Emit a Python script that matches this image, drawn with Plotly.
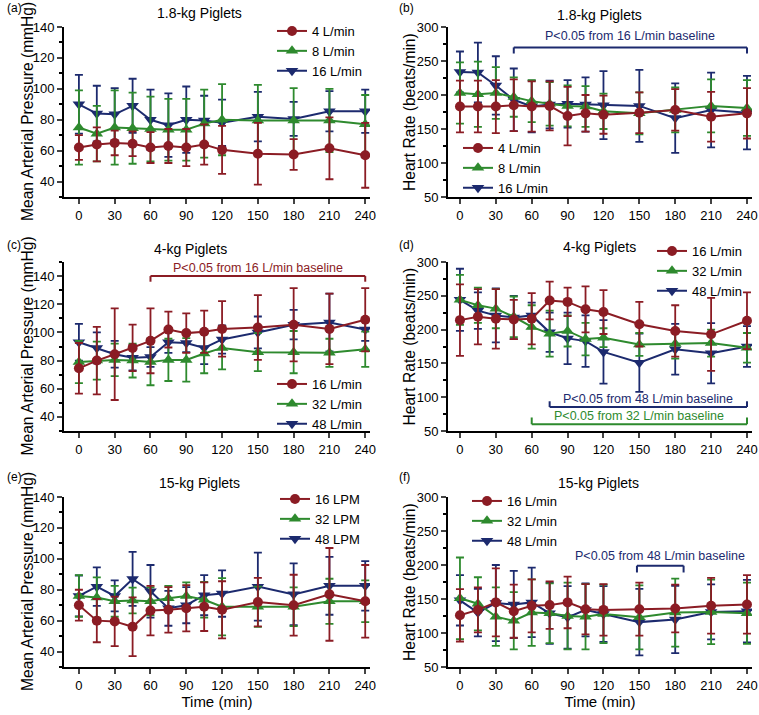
import plotly.graph_objects as go

FONT = "Arial, 'Liberation Sans', sans-serif"
RED = "#8B1C24"
GREEN = "#2E8A2E"
NAVY = "#1C2A6E"

time_min = [0, 15, 30, 45, 60, 75, 90, 105, 120, 150, 180, 210, 240]
x_ticks = [0, 30, 60, 90, 120, 150, 180, 210, 240]

# Panel (a) MAP, 1.8-kg
a_red = [62, 64, 65, 64.5, 62, 63, 62, 64, 60.5, 58, 57.5, 61.5, 57]
a_red_sd = [8, 11, 8, 8, 10, 11, 12, 13, 15.5, 20, 10, 20, 21]
a_green = [75, 71, 75, 74.5, 74, 73.5, 73.5, 77.5, 80, 79.5, 79.5, 79.5, 77]
a_green_sd = [24, 18, 24, 23, 21, 20, 20, 22, 23, 23, 21, 20.5, 19]
a_navy = [90, 84, 83.5, 89, 80, 76.5, 80, 79.5, 78, 82, 80.5, 85.5, 85.5]
a_navy_sd = [19, 18, 17, 17.5, 19.5, 20.5, 21.5, 16, 15, 16, 11, 13, 14]

# Panel (b) HR, 1.8-kg
b_red = [183, 183, 183, 185, 183, 184, 169, 173, 171, 174, 178, 168, 173]
b_red_sd = [38, 38, 39, 38, 37, 36, 43, 27, 28, 30, 30.5, 36.5, 37]
b_green = [203, 201, 203, 197, 191, 187, 184, 183, 176, 173, 178, 184, 181]
b_green_sd = [45, 48, 38, 29, 31, 32, 30, 30, 26, 31, 33, 39, 41]
b_navy = [234, 233, 214, 193, 183, 186, 187, 186, 185, 184, 166, 178, 174]
b_navy_sd = [30, 44, 43, 46, 38, 35, 35, 40, 50, 53, 51, 55, 54]

# Panel (c) MAP, 4-kg
c_red = [74.5, 80, 84.5, 89, 94, 102, 99.5, 100.5, 102.5, 103.5, 105.5, 102.5, 109]
c_red_sd = [18, 24, 32.5, 16.5, 23, 12.7, 14, 15, 19.7, 23, 26, 25, 22.5]
c_green = [79, 80, 80.5, 80, 79, 80.5, 80.5, 85, 89, 86, 86, 85.5, 88]
c_green_sd = [15, 13.5, 11.5, 12, 16.5, 15, 15.5, 14, 15.3, 13.5, 15, 10, 12.5]
c_navy = [93, 89, 84.5, 82, 82.5, 93, 92.5, 89, 95, 100, 105.5, 107, 102]
c_navy_sd = [13, 11, 9.5, 9, 7, 7.5, 6.5, 11.5, 10, 11.3, 10.5, 20.5, 8]

# Panel (d) HR, 4-kg
d_red = [214, 219, 216, 215, 216, 243, 241, 230, 226, 208, 198, 193, 213]
d_red_sd = [53, 41, 44, 29, 38, 28, 21, 34, 32.5, 33, 38, 54, 42]
d_green = [244, 236, 231, 219, 204, 194, 198, 186, 188, 178, 179, 180, 173]
d_green_sd = [37, 26, 29, 30, 32, 34, 23, 24, 14, 17, 22, 20, 22]
d_navy = [244, 228, 221, 218, 221, 196, 187, 183, 167, 151, 171, 165, 175]
d_navy_sd = [46, 27, 40, 32, 19, 29, 38, 38, 47, 43, 37.5, 44.5, 30]

# Panel (e) MAP, 15-kg
e_red = [70, 60, 59.5, 56, 66.5, 67, 68, 69, 67, 72, 70, 77, 72.5]
e_red_sd = [10, 14, 16, 19, 16, 14.7, 15, 15.7, 18.5, 15.7, 19.7, 30, 23.5]
e_green = [76, 75, 72.5, 73, 72.5, 74.5, 76, 73.5, 69, 69, 69, 72.5, 72.5]
e_green_sd = [13.5, 13, 10, 8.3, 9, 8, 8.7, 11.5, 18.5, 13, 12.5, 14.6, 13.5]
e_navy = [76, 82, 76, 87, 79, 68, 70, 76.5, 77.5, 82, 77, 82.5, 82.5]
e_navy_sd = [13.2, 12.4, 10, 17.5, 17, 11.3, 11.7, 13, 15, 22, 20, 18.7, 16]

# Panel (f) HR, 15-kg
f_red = [126, 134, 145, 132, 140, 141, 145, 135, 134, 135, 136, 140, 142]
f_red_sd = [38.5, 33, 50, 39, 39, 35, 38, 37, 38, 39, 35, 41, 43]
f_green = [151, 143, 124, 118, 130, 129, 125, 124, 128, 123, 130, 131, 129]
f_green_sd = [60, 39, 43, 42, 49, 44, 49, 48, 43, 47, 50, 47.5, 45]
f_navy = [148, 130, 144, 142, 145, 129, 123, 134, 128, 116, 120, 131, 132]
f_navy_sd = [37, 35, 56, 49.5, 51, 45, 46, 39, 41, 49, 49.5, 40.5, 46]

names_a = ["4 L/min", "8 L/min", "16 L/min"]
names_c = ["16 L/min", "32 L/min", "48 L/min"]
names_e = ["16 LPM", "32 LPM", "48 LPM"]

titles = ["1.8-kg Piglets", "1.8-kg Piglets", "4-kg Piglets", "4-kg Piglets",
          "15-kg Piglets", "15-kg Piglets"]
panel_labels = ["(a)", "(b)", "(c)", "(d)", "(e)", "(f)"]
map_title = "Mean Arterial Pressure (mmHg)"
hr_title = "Heart Rate (beats/min)"
time_title = "Time (min)"

# brackets: (panel index, x0, x1, y line, y ends, text y, text, colour)
brackets = [
    (1, 45, 240, 270, 261, 287, "P<0.05 from 16 L/min baseline", NAVY),
    (2, 60, 240, 140, 136, 146, "P<0.05 from 16 L/min baseline", RED),
    (3, 75, 240, 85.5, 94, 98, "P<0.05 from 48 L/min baseline", NAVY),
    (3, 60, 240, 60, 70, 72.5, "P<0.05 from 32 L/min baseline", GREEN),
    (5, 148, 187, 199, 189, 213, "P<0.05 from 48 L/min baseline", NAVY),
]

W, H = 759, 715
panels = [
    dict(data=(a_red, a_red_sd, a_green, a_green_sd, a_navy, a_navy_sd), names=names_a,
         yr=[30, 140], dt=20, col=0, row=0, ytitle=map_title, leg=(272, 16)),
    dict(data=(b_red, b_red_sd, b_green, b_green_sd, b_navy, b_navy_sd), names=names_a,
         yr=[50, 300], dt=50, col=1, row=0, ytitle=hr_title, leg=(458, 133)),
    dict(data=(c_red, c_red_sd, c_green, c_green_sd, c_navy, c_navy_sd), names=names_c,
         yr=[30, 150], dt=20, col=0, row=1, ytitle=map_title, leg=(272, 369)),
    dict(data=(d_red, d_red_sd, d_green, d_green_sd, d_navy, d_navy_sd), names=names_c,
         yr=[50, 300], dt=50, col=1, row=1, ytitle=hr_title, leg=(652, 236)),
    dict(data=(e_red, e_red_sd, e_green, e_green_sd, e_navy, e_navy_sd), names=names_e,
         yr=[30, 140], dt=20, col=0, row=2, ytitle=map_title, leg=(275, 484)),
    dict(data=(f_red, f_red_sd, f_green, f_green_sd, f_navy, f_navy_sd), names=names_c,
         yr=[50, 300], dt=50, col=1, row=2, ytitle=hr_title, leg=(467, 486)),
]

xdom_px = [(64, 370), (448, 752)]
ydom_px = [(27, 197), (262, 431), (497, 667)]
xranges = [[-12.5, 244], [-10, 244.2]]
ytitle_x = [27, 409]
title_px = [(199, 13), (599, 15), (190, 249), (599, 247), (199, 483), (598, 483)]
label_px = [(5, 8), (397, 8), (5, 245), (397, 245), (5, 477), (397, 477)]

fig = go.Figure()
layout = dict(width=W, height=H,
              margin=dict(l=0, r=0, t=0, b=0, pad=0, autoexpand=False),
              paper_bgcolor="white", plot_bgcolor="white",
              font=dict(family=FONT, size=13, color="black"),
              annotations=[], shapes=[])

colors = [RED, GREEN, NAVY]
symbols = ["circle", "triangle-up", "triangle-down"]

for i, p in enumerate(panels):
    n = i + 1
    xa = "x" if n == 1 else f"x{n}"
    ya = "y" if n == 1 else f"y{n}"
    leg = "legend" if n == 1 else f"legend{n}"
    vals = p["data"]
    # draw navy first, red last (on top)
    for k in [2, 1, 0]:
        fig.add_trace(go.Scatter(
            x=time_min, y=vals[2 * k], name=p["names"][k],
            mode="lines+markers", xaxis=xa, yaxis=ya, legend=leg,
            legendrank=k + 1,
            line=dict(color=colors[k], width=2),
            marker=dict(symbol=symbols[k], size=10 if k == 0 else 11, color=colors[k]),
            error_y=dict(type="data", array=vals[2 * k + 1], visible=True,
                         color=colors[k], thickness=1.8, width=4),
        ))
    c, r = p["col"], p["row"]
    x0, x1 = xdom_px[c]
    yt, yb = ydom_px[r]
    xkey = "xaxis" if n == 1 else f"xaxis{n}"
    ykey = "yaxis" if n == 1 else f"yaxis{n}"
    layout[xkey] = dict(domain=[x0 / W, x1 / W], range=xranges[c], anchor=ya,
                        tickmode="array", tickvals=x_ticks, ticks="outside",
                        ticklen=5, tickwidth=2, showline=True, linewidth=2,
                        linecolor="black", showgrid=False, zeroline=False,
                        tickfont=dict(size=13), automargin=False,
                        ticklabeloverflow="allow",
                        title=dict(text=time_title if r == 2 else "",
                                   font=dict(size=15), standoff=4))
    layout[ykey] = dict(domain=[1 - yb / H, 1 - yt / H], range=p["yr"], anchor=xa,
                        tick0=0 if p["dt"] == 20 else 50, dtick=p["dt"],
                        ticks="outside", ticklen=5, tickwidth=2,
                        showline=True, linewidth=2, linecolor="black",
                        showgrid=False, zeroline=False, tickfont=dict(size=13),
                        automargin=False, ticklabeloverflow="allow",
                        minor=dict(dtick=p["dt"] / 2, ticks="outside", ticklen=3,
                                   tickwidth=1.5, tickcolor="black"))
    if p["dt"] == 20:
        layout[ykey]["tickvals"] = [40, 60, 80, 100, 120, 140]
        layout[ykey]["tickmode"] = "array"
    # y-axis title as rotated text
    layout["annotations"].append(dict(text=p["ytitle"], textangle=-90,
                                      x=ytitle_x[c] / W, y=1 - (yt + yb) / 2 / H,
                                      xref="paper", yref="paper", showarrow=False,
                                      font=dict(size=15.6), xanchor="center", yanchor="middle"))
    lx, ly = p["leg"]
    layout[leg] = dict(x=lx / W, y=1 - ly / H, xanchor="left", yanchor="top",
                       bgcolor="rgba(0,0,0,0)", font=dict(size=13),
                       tracegroupgap=0, itemwidth=30)
    tx, ty = title_px[i]
    layout["annotations"].append(dict(text=titles[i], x=tx / W, y=1 - ty / H,
                                      xref="paper", yref="paper", showarrow=False,
                                      font=dict(size=14), xanchor="center", yanchor="middle"))
    lbx, lby = label_px[i]
    layout["annotations"].append(dict(text=panel_labels[i], x=lbx / W, y=1 - lby / H,
                                      xref="paper", yref="paper", showarrow=False,
                                      font=dict(size=12), xanchor="left", yanchor="middle"))

for (pi, bx0, bx1, by, bend, ty, text, col) in brackets:
    n = pi + 1
    xa = "x" if n == 1 else f"x{n}"
    ya = "y" if n == 1 else f"y{n}"
    for xs, ys in [((bx0, bx1), (by, by)), ((bx0, bx0), (by, bend)), ((bx1, bx1), (by, bend))]:
        layout["shapes"].append(dict(type="line", xref=xa, yref=ya, x0=xs[0], x1=xs[1],
                                     y0=ys[0], y1=ys[1], line=dict(color=col, width=2)))
    layout["annotations"].append(dict(text=text, x=(bx0 + bx1) / 2, y=ty, xref=xa, yref=ya,
                                      showarrow=False, font=dict(size=12.5, color=col),
                                      xanchor="center", yanchor="middle"))

fig.update_layout(**layout)
fig.write_html("out.html", config={"displayModeBar": False},
               post_script="document.body.style.margin='0';document.body.style.overflow='hidden';")
